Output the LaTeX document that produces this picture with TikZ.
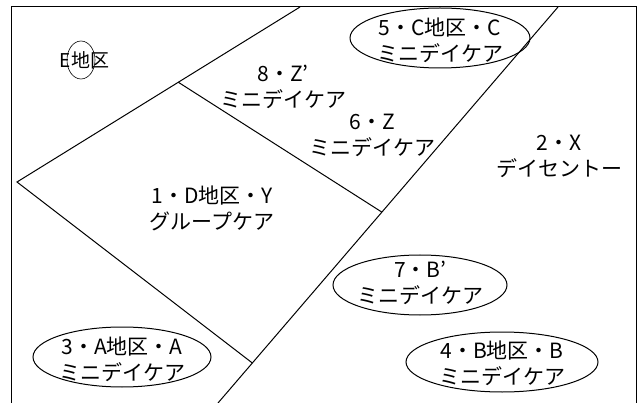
\documentclass[tikz,border=0pt]{standalone}
\usepackage{fontspec}
\setmainfont{Noto Sans CJK JP}
\usetikzlibrary{calc}
\tikzset{
  area/.style={font=\fontsize{21}{26}\selectfont, align=center, inner sep=0pt},
  zone/.style={line width=1pt},
  tag/.style={font=\fontsize{19}{22}\selectfont, inner sep=0pt},
}
\begin{document}
\begin{tikzpicture}[x=1pt, y=-1pt]
    \useasboundingbox (0,0) rectangle (642,403);

    % Frame
    \draw[zone] (11,403) -- (11,7) -- (636,7) -- (636,403);

    % Boundaries
    \coordinate (top1) at (300,7);
    \coordinate (west) at (17,182);
    \coordinate (top2) at (558,7);
    \coordinate (foot) at (218,403);
    \coordinate (fork) at ($(top1)!0.43!(west)$);
    \coordinate (meet1) at ($(top2)!0.518!(foot)$);
    \coordinate (meet2) at ($(top2)!0.899!(foot)$);
    \draw[zone] (top1) -- (west) -- (meet2);
    \draw[zone] (fork) -- (meet1);
    \draw[zone] (top2) -- (foot);

    % E district
    \node[tag] (ed) at (81,60) {地};
    \node[tag, anchor=base east] (ee) at (ed.base west) {E};
    \node[tag, anchor=base west] (eq) at (ed.base east) {区};
    \draw[line width=0.6pt] (ed.center) ellipse [x radius=14pt, y radius=19pt];

    % Areas
    \node[area] (z8) at (283,87) {8・Z'\\ミニデイケア};
    \node[area] (z6) at (372,135) {6・Z\\ミニデイケア};
    \node[area] (x2) at (559,156) {2・X\\デイセントー};
    \node[area] (y1) at (212,208) {1・D地区・Y\\グループケア};

    % Mini day care
    \node[area] (c5) at (440,40) {5・C地区・C\\ミニデイケア};
    \draw[zone] (440,38) ellipse [x radius=90pt, y radius=30pt];
    \node[area] (a3) at (122,359) {3・A地区・A\\ミニデイケア};
    \draw[zone] (122,357) ellipse [x radius=89pt, y radius=30pt];
    \node[area] (b7) at (420,283) {7・B'\\ミニデイケア};
    \draw[zone] (420,285) ellipse [x radius=87pt, y radius=30pt];
    \node[area] (b4) at (502,363) {4・B地区・B\\ミニデイケア};
    \draw[zone] (502,362) ellipse [x radius=96pt, y radius=30pt];
\end{tikzpicture}
\end{document}
